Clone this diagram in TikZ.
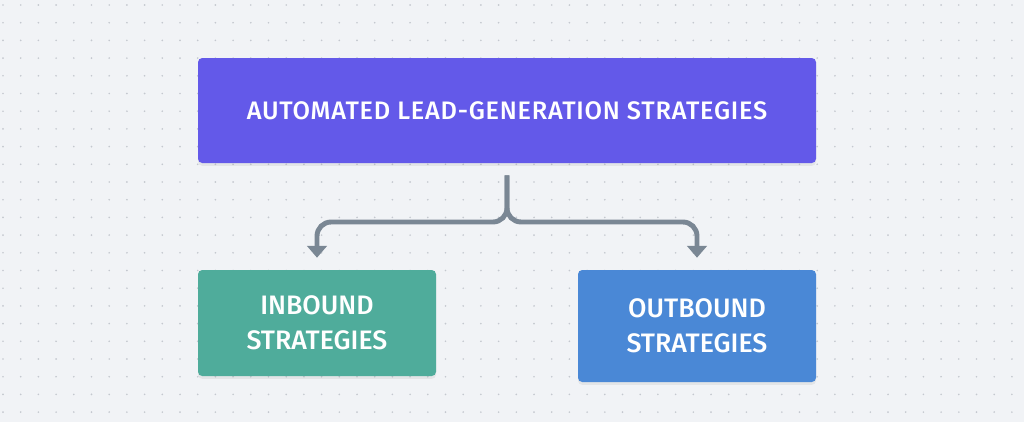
\documentclass[tikz,border=0pt]{standalone}
\usepackage{fontspec}
\setmainfont{Fira Sans}[UprightFont={* Medium}]
\usepackage{tikz}
\usetikzlibrary{arrows.meta,shadows}
\usepackage{xcolor}

\definecolor{paper}{RGB}{241,243,246}
\definecolor{dotgray}{RGB}{196,200,207}
\definecolor{indigo}{RGB}{99,89,233}
\definecolor{teal}{RGB}{79,172,155}
\definecolor{sky}{RGB}{74,136,214}
\definecolor{wire}{RGB}{122,135,148}

\tikzset{
  box/.style={rounded corners=3pt,text=white,align=center,inner sep=0pt,
    drop shadow={opacity=0.12,shadow xshift=0pt,shadow yshift=-2pt}},
  link/.style={wire,line width=3.5pt,rounded corners=10pt,
    -{Triangle[width=14pt,length=8.5pt]}}
}

\begin{document}
\begin{tikzpicture}[font=\fontsize{19}{25}\selectfont]
\fill[paper] (0,0) rectangle (25.6,10.55);
\useasboundingbox (0,0) rectangle (25.6,10.55);
% dotted paper
\foreach \i in {0,...,57}
  \foreach \j in {0,...,23}
    \fill[dotgray] (0.075+\i*0.4425,10.425-\j*0.4425) circle (0.65pt);
\node[box,fill=indigo,minimum width=15.45cm,minimum height=2.625cm,
  font=\fontsize{18}{22}\selectfont\addfontfeature{LetterSpace=3}] (auto) at (12.675,7.7875)
  {AUTOMATED LEAD-GENERATION STRATEGIES};
\node[box,fill=teal,minimum width=5.95cm,minimum height=2.65cm] (inb) at (7.925,2.475)
  {INBOUND\\STRATEGIES};
\node[box,fill=sky,minimum width=5.95cm,minimum height=2.8cm] (outb) at (17.425,2.4)
  {OUTBOUND\\STRATEGIES};
\coordinate (src) at ([yshift=-0.3cm]auto.south);
\coordinate (inend) at ([yshift=0.3cm]inb.north);
\coordinate (outend) at ([yshift=0.3cm]outb.north);
\coordinate (fork) at (12.675,5.0);
\draw[link] (src) -- (fork) -- (fork -| inend) -- (inend);
\draw[link] (src) -- (fork) -- (fork -| outend) -- (outend);
\end{tikzpicture}
\end{document}
